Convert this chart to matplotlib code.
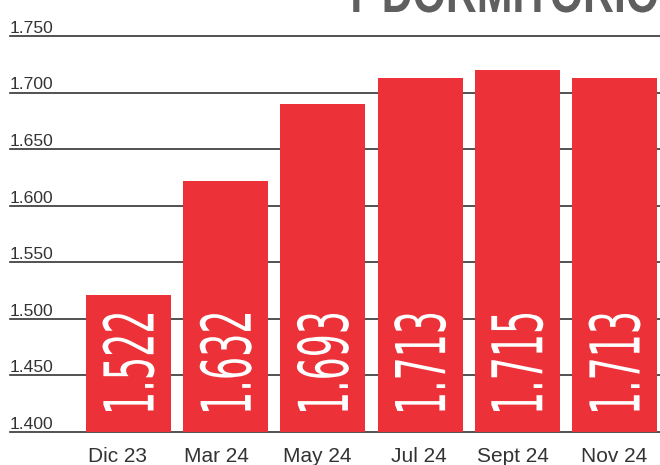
import matplotlib
matplotlib.use('Agg')
import matplotlib.pyplot as plt
from matplotlib.textpath import TextPath
from matplotlib.patches import PathPatch
from matplotlib.font_manager import FontProperties
from matplotlib.transforms import Affine2D, IdentityTransform

months = ['Dic 23', 'Mar 24', 'May 24', 'Jul 24', 'Sept 24', 'Nov 24']
# bar heights as drawn in the picture, and the printed labels
values = [1.521, 1.622, 1.690, 1.713, 1.720, 1.713]
labels = ['1.522', '1.632', '1.693', '1.713', '1.715', '1.713']
yticks = [1.40, 1.45, 1.50, 1.55, 1.60, 1.65, 1.70, 1.75]
ytick_labels = ['1.400', '1.450', '1.500', '1.550', '1.600', '1.650', '1.700', '1.750']
title = 'Y DORMITORIO'

RED = '#EC3138'
DARK = '#333333'
W, H = 660, 465

fig = plt.figure(figsize=(W / 100, H / 100), dpi=100, facecolor='white')
ax = fig.add_axes([10 / W, 33 / H, 650 / W, 396 / H])

xs = list(range(len(months)))
ax.bar(xs, values, width=0.875, color=RED, zorder=2)
ax.set_xlim(-1.219, 5.468)
ax.set_ylim(1.4, 1.75)

for v, lbl in zip(yticks, ytick_labels):
    ax.axhline(v, color=DARK, lw=1.2, zorder=1, clip_on=False)
    ax.annotate(lbl, (-1.219, v), xytext=(0, 2.3), textcoords='offset points',
                ha='left', va='baseline', fontsize=12.6, color=DARK,
                family='Liberation Sans', annotation_clip=False)

for s in ax.spines.values():
    s.set_visible(False)
ax.set_yticks([])
# month labels in the original sit a little off the bar centres
ax.set_xticks([-0.11, 0.90, 1.94, 2.99, 3.96, 5.00], months)
ax.tick_params(axis='x', length=0, pad=11, labelsize=15, labelcolor=DARK)
for t in ax.get_xticklabels():
    t.set_family('Liberation Sans')


def squeezed_label(s, cx, y0, length, height):
    tp = TextPath((0, 0), s, size=1, prop=FontProperties(family='DejaVu Sans'))
    ext = tp.get_extents()
    tr = (Affine2D().translate(-ext.x0, -(ext.y0 + ext.y1) / 2)
          .scale(length / ext.width, height / ext.height)
          .rotate_deg(90)
          .translate(cx, y0))
    fig.add_artist(PathPatch(tr.transform_path(tp), transform=IdentityTransform(),
                             facecolor='white', edgecolor='none', zorder=5))


for i, lbl in enumerate(labels):
    cx = ax.transData.transform((i, 1.4))[0]
    squeezed_label(lbl, cx, 54, 97, 52)

# cropped headline at the top
tp = TextPath((0, 0), title, size=1,
              prop=FontProperties(family='Liberation Sans', weight='bold'))
tr = Affine2D().scale(42.8, 55).translate(342, 453)
fig.add_artist(PathPatch(tr.transform_path(tp), transform=IdentityTransform(),
                         facecolor='#5f5f5f', edgecolor='none', zorder=5))

fig.savefig('out.png', dpi=100)
